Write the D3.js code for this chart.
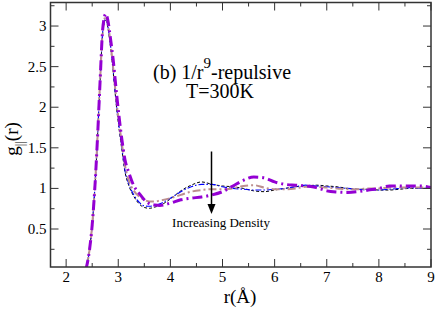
<!DOCTYPE html>
<html>
<head>
<meta charset="utf-8">
<script src="https://cdn.jsdelivr.net/npm/d3@7"></script>
<style>
  body { margin: 0; background: #fff; }
  text { font-family: "Liberation Serif", "DejaVu Serif", serif; fill: #000; }
</style>
</head>
<body>
<svg width="436" height="310"></svg>
<script>
// r values (Angstrom) shared by all curves
const rVals = [2.38, 2.45, 2.5, 2.55, 2.6, 2.65, 2.7, 2.73, 2.76, 2.8, 2.85, 2.9, 2.97, 3.07, 3.13, 3.2, 3.3, 3.4, 3.5, 3.6, 3.7, 3.8,
  4.0, 4.2, 4.4, 4.6, 4.8, 5.0, 5.2, 5.4, 5.6, 5.8, 6.0, 6.2, 6.4, 6.6, 6.8, 7.0, 7.2, 7.4, 7.6, 7.8, 8.0, 8.2, 8.4, 8.6, 8.8, 9.0];

const gBlack = [0, 0.25, 0.55, 1.0, 1.6, 2.3, 2.9, 3.03, 3.07, 2.98, 2.75, 2.45, 1.98, 1.47, 1.2, 1.04, 0.9, 0.81, 0.765, 0.755, 0.77, 0.79,
  0.87, 0.97, 1.04, 1.08, 1.05, 1.03, 1.02, 1.0, 0.97, 0.96, 0.98, 1.0, 1.02, 1.03, 1.04, 1.03, 1.02, 1.0, 0.99, 0.99, 0.98, 0.98, 0.99, 1.0, 1.0, 1.0];
const gBlue = [0, 0.25, 0.55, 1.0, 1.6, 2.3, 2.92, 3.05, 3.09, 3.0, 2.77, 2.47, 2.0, 1.5, 1.22, 1.06, 0.92, 0.83, 0.785, 0.78, 0.79, 0.81,
  0.88, 0.96, 1.02, 1.05, 1.05, 1.02, 1.0, 0.99, 0.98, 0.98, 0.99, 1.0, 1.02, 1.04, 1.03, 1.02, 1.01, 1.0, 0.99, 0.98, 0.98, 0.99, 1.0, 1.01, 1.0, 1.0];
const gRosy = [0, 0.25, 0.55, 1.0, 1.6, 2.3, 2.93, 3.07, 3.12, 3.03, 2.8, 2.5, 2.05, 1.55, 1.28, 1.1, 0.97, 0.9, 0.86, 0.84, 0.84, 0.85,
  0.88, 0.92, 0.96, 0.98, 0.99, 0.99, 1.0, 1.03, 1.04, 1.01, 0.99, 0.99, 1.0, 1.02, 1.02, 1.01, 1.0, 0.99, 0.99, 1.0, 1.0, 1.01, 1.01, 1.01, 1.01, 1.01];
const gPurple = [0, 0.25, 0.55, 1.0, 1.6, 2.3, 2.95, 3.1, 3.15, 3.07, 2.85, 2.6, 2.15, 1.6, 1.35, 1.2, 1.03, 0.94, 0.86, 0.81, 0.795, 0.79,
  0.82, 0.86, 0.88, 0.895, 0.92, 0.96, 1.03, 1.1, 1.14, 1.13, 1.08, 1.05, 1.04, 1.03, 1.01, 0.97, 0.955, 0.95, 0.96, 0.98, 1.0, 1.03, 1.03, 1.03, 1.03, 1.01];

const xTicks = [2, 3, 4, 5, 6, 7, 8, 9];
const yTicks = [0.5, 1, 1.5, 2, 2.5, 3];

function draw() {
  const svg = d3.select("svg");
  const left = 50.5, right = 431, top = 2.5, bottom = 267;

  const x = d3.scaleLinear().domain([1.7, 9]).range([left, right]);
  const y = d3.scaleLinear().domain([0.032, 3.29]).range([bottom, top]);

  svg.append("clipPath").attr("id", "clip")
    .append("rect")
    .attr("x", left).attr("y", top)
    .attr("width", right - left).attr("height", bottom - top);

  const series = [
    { g: gBlack, color: "#000", width: 1, dash: "3,2" },
    { g: gBlue, color: "#0000ff", width: 1.1, dash: "6,2,1.5,2" },
    { g: gRosy, color: "#bc8f8f", width: 2, dash: "8,3,2,3" },
    { g: gPurple, color: "#9400d3", width: 3, dash: "10,4,2,4" }
  ];

  const line = d3.line()
    .x(d => x(d[0]))
    .y(d => y(d[1]))
    .curve(d3.curveMonotoneX);

  const plot = svg.append("g").attr("clip-path", "url(#clip)");
  series.forEach(s => {
    plot.append("path")
      .datum(rVals.map((r, i) => [r, s.g[i]]))
      .attr("d", line)
      .attr("fill", "none")
      .attr("stroke", s.color)
      .attr("stroke-width", s.width)
      .attr("stroke-dasharray", s.dash);
  });

  // axes: ticks inward on all four sides
  const axisColor = "#333";
  const xAll = d3.range(2, 9.01, 0.5);
  const yAll = d3.range(0.25, 3.26, 0.25);

  const ticks = svg.append("g").attr("stroke", axisColor).attr("stroke-width", 1);
  xAll.forEach(v => {
    const len = Number.isInteger(v) ? 8 : 4;
    ticks.append("line").attr("x1", x(v)).attr("x2", x(v)).attr("y1", bottom).attr("y2", bottom - len);
    ticks.append("line").attr("x1", x(v)).attr("x2", x(v)).attr("y1", top).attr("y2", top + len);
  });
  yAll.forEach(v => {
    const len = Math.abs(v * 2 - Math.round(v * 2)) < 1e-6 ? 8 : 4;
    ticks.append("line").attr("y1", y(v)).attr("y2", y(v)).attr("x1", left).attr("x2", left + len);
    ticks.append("line").attr("y1", y(v)).attr("y2", y(v)).attr("x1", right).attr("x2", right - len);
  });

  svg.append("rect")
    .attr("x", left).attr("y", top)
    .attr("width", right - left).attr("height", bottom - top)
    .attr("fill", "none")
    .attr("stroke", axisColor)
    .attr("stroke-width", 1.5);

  svg.append("g").selectAll("text")
    .data(xTicks)
    .join("text")
    .attr("x", d => x(d))
    .attr("y", 282)
    .attr("text-anchor", "middle")
    .attr("font-size", 15)
    .text(d => d);

  svg.append("g").selectAll("text")
    .data(yTicks)
    .join("text")
    .attr("x", 46.5)
    .attr("y", d => y(d) + 5)
    .attr("text-anchor", "end")
    .attr("font-size", 15)
    .text(d => d);

  // axis titles
  svg.append("text")
    .attr("x", 240).attr("y", 303)
    .attr("text-anchor", "middle")
    .attr("font-size", 19)
    .text("r(Å)");

  const yl = svg.append("text")
    .attr("transform", "translate(18,139) rotate(-90)")
    .attr("text-anchor", "middle")
    .attr("font-size", 19);
  yl.append("tspan").text("g");
  yl.append("tspan").attr("font-size", 13).attr("dy", 6).text("||");
  yl.append("tspan").attr("dy", -6).text("(r)");

  // annotation
  const t1 = svg.append("text")
    .attr("x", 222).attr("y", 79)
    .attr("text-anchor", "middle")
    .attr("font-size", 20);
  t1.append("tspan").text("(b)  1/r");
  t1.append("tspan").attr("font-size", 15).attr("dy", -11).text("9");
  t1.append("tspan").attr("dy", 11).text("-repulsive");

  svg.append("text")
    .attr("x", 220).attr("y", 98)
    .attr("text-anchor", "middle")
    .attr("font-size", 20)
    .text("T=300K");

  svg.append("line")
    .attr("x1", 211.5).attr("x2", 211.5)
    .attr("y1", 151.5).attr("y2", 205)
    .attr("stroke", "#000").attr("stroke-width", 1.5);
  svg.append("path")
    .attr("d", "M207.5,204 L215.5,204 L211.5,214 Z")
    .attr("fill", "#000");

  svg.append("text")
    .attr("x", 221).attr("y", 226.5)
    .attr("text-anchor", "middle")
    .attr("font-size", 13)
    .text("Increasing Density");
}

window.onload = draw;
</script>
</body>
</html>
